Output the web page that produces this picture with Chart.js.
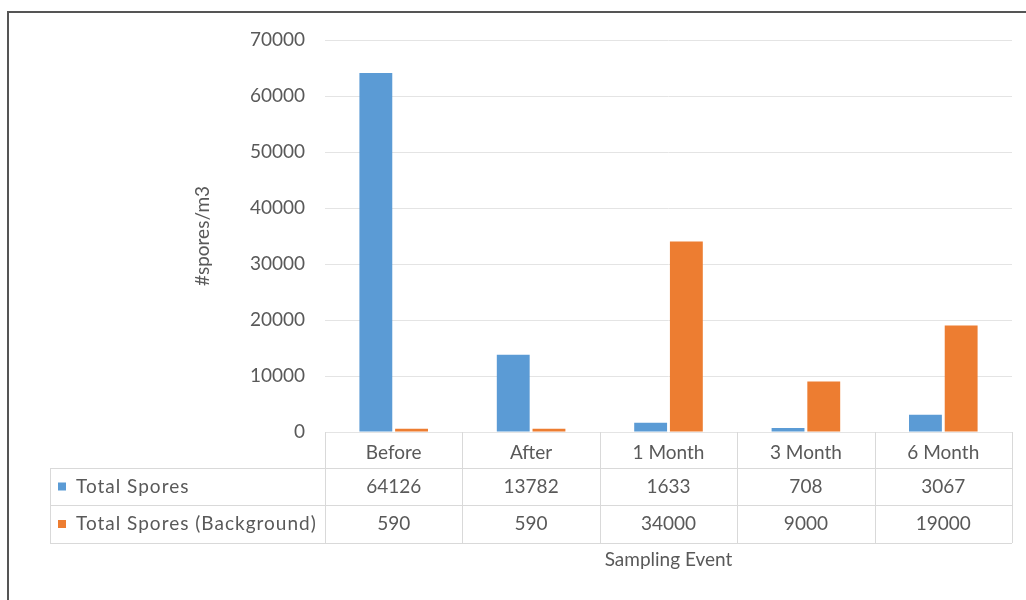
<!DOCTYPE html>
<html>
<head>
<meta charset="utf-8">
<script src="https://cdn.jsdelivr.net/npm/chart.js@4/dist/chart.umd.min.js"></script>
<style>
	body { margin: 0; background: #fff; overflow: hidden; }
	#wrap { position: absolute; left: 0; top: 0; width: 1026px; height: 600px; }
	#frame { position: absolute; left: 7px; top: 11px; width: 1040px; height: 620px; border: 2px solid #555; }
</style>
</head>
<body>
<div id="wrap">
	<canvas id="myCanvas" width="1026" height="600"></canvas>
</div>
<div id="frame"></div>
<script>
const categories = ["Before", "After", "1 Month", "3 Month", "6 Month"];
const totalSpores = [64126, 13782, 1633, 708, 3067];
const backgroundSpores = [590, 590, 34000, 9000, 19000];
const seriesNames = ["Total Spores", "Total Spores (Background)"];
const yTicks = [0, 10000, 20000, 30000, 40000, 50000, 60000, 70000];

const blue = "#5B9BD5";
const orange = "#ED7D31";
const textColor = "#595959";
const lineColor = "#d9d9d9";
const fontFamily = "Lato, 'Open Sans', sans-serif";
const fontSize = 19;

Chart.defaults.font.family = fontFamily;
Chart.defaults.color = textColor;

// data table under the plot, aligned with the x scale
const dataTable = {
	id: "dataTable",
	afterDraw(chart) {
		const c = chart.ctx;
		const x = chart.scales.x;
		const area = chart.chartArea;
		const step = x.getPixelForValue(1) - x.getPixelForValue(0);
		const top = area.bottom;
		const rows = [top + 36, top + 73, top + 111];
		const leftEdge = 50;
		c.save();
		c.strokeStyle = lineColor;
		c.lineWidth = 1;
		c.beginPath();
		for (let i = 0; i <= categories.length; i++) {
			const px = Math.round(x.getPixelForValue(0) - step / 2 + i * step) + 0.5;
			c.moveTo(px, top);
			c.lineTo(px, rows[2]);
		}
		c.moveTo(leftEdge + 0.5, rows[0]);
		c.lineTo(leftEdge + 0.5, rows[2]);
		for (const r of rows) {
			c.moveTo(leftEdge, r + 0.5);
			c.lineTo(area.right, r + 0.5);
		}
		c.stroke();

		const series = [totalSpores, backgroundSpores];
		const colors = [blue, orange];
		c.font = fontSize + "px " + fontFamily;
		c.textBaseline = "middle";
		for (let s = 0; s < 2; s++) {
			const cy = (rows[s] + rows[s + 1]) / 2;
			c.fillStyle = colors[s];
			c.fillRect(leftEdge + 8, cy - 4, 8, 8);
			c.fillStyle = textColor;
			c.textAlign = "left";
			c.letterSpacing = "1px";
			c.fillText(seriesNames[s], leftEdge + 26, cy);
			c.letterSpacing = "0px";
			c.textAlign = "center";
			series[s].forEach((v, i) => {
				c.fillText(String(v), x.getPixelForValue(i), cy);
			});
		}
		c.restore();
	},
};

const ctx = document.getElementById("myCanvas").getContext("2d");
const myChart = new Chart(ctx, {
	type: "bar",
	data: {
		labels: categories,
		datasets: [
			{
				label: seriesNames[0],
				data: totalSpores,
				backgroundColor: blue,
				categoryPercentage: 0.52,
				barPercentage: 0.92,
			},
			{
				label: seriesNames[1],
				data: backgroundSpores,
				backgroundColor: orange,
				categoryPercentage: 0.52,
				barPercentage: 0.92,
			},
		],
	},
	options: {
		responsive: false,
		animation: false,
		layout: {
			padding: { top: 40, right: 14, left: 0, bottom: 0 },
		},
		plugins: {
			legend: { display: false },
			tooltip: { enabled: false },
		},
		scales: {
			x: {
				grid: { display: false },
				border: { display: false },
				ticks: {
					padding: 1,
					font: { size: fontSize },
					color: textColor,
				},
				title: {
					display: true,
					text: "Sampling Event",
					font: { size: fontSize },
					color: textColor,
					padding: { top: 0, bottom: 29 },
				},
				afterFit: function (scale) {
					scale.height = 168;
				},
			},
			y: {
				min: 0,
				max: 70000,
				afterBuildTicks: function (scale) {
					scale.ticks = yTicks.map((v) => ({ value: v }));
				},
				grid: {
					color: "#e4e4e4",
					drawTicks: false,
				},
				border: { display: false },
				ticks: {
					padding: 20,
					font: { size: fontSize },
					color: textColor,
					callback: function (value) {
						return String(value);
					},
				},
				title: {
					display: true,
					text: "#spores/m3",
					font: { size: fontSize },
					color: textColor,
					padding: { top: 191, bottom: 0 },
				},
				afterFit: function (scale) {
					scale.width = 325;
				},
			},
		},
	},
	plugins: [dataTable],
});
</script>
</body>
</html>
